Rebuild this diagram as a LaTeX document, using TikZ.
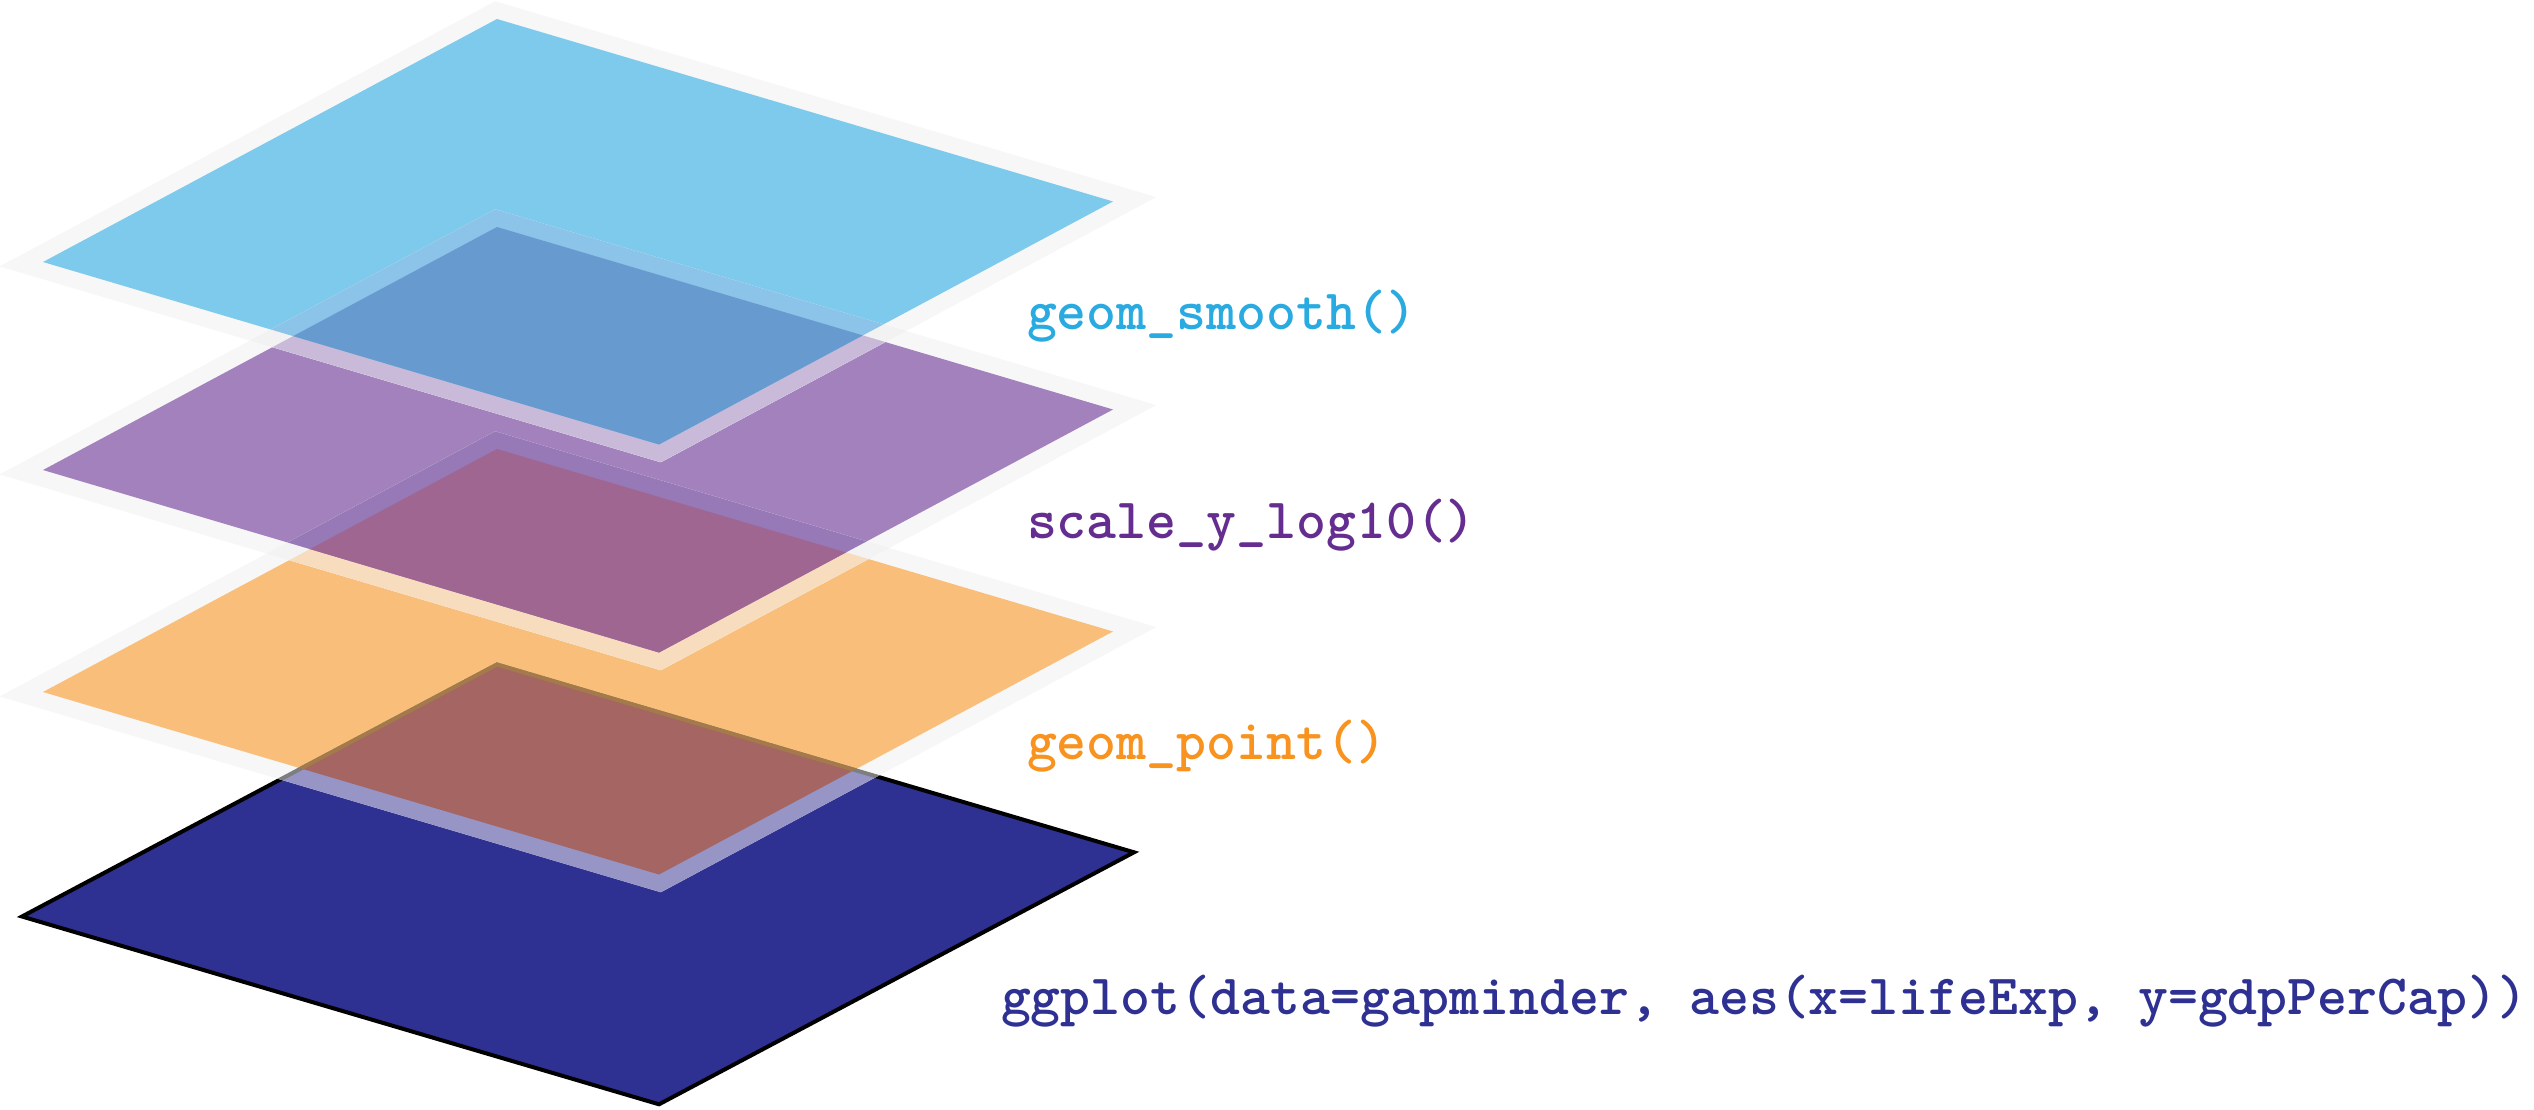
\documentclass[tikz,border=0pt]{standalone}
\definecolor{cBlue}{HTML}{7DCAEC}
\definecolor{cPurple}{HTML}{A381BD}
\definecolor{cOrange}{HTML}{F9BF7A}
\definecolor{cNavy}{HTML}{2E3192}
\definecolor{cGray}{HTML}{F7F7F7}
\definecolor{bpFF}{HTML}{679BD0}
\definecolor{bpFB}{HTML}{8CC3E9}
\definecolor{bpBF}{HTML}{C9BAD9}
\definecolor{bpBB}{HTML}{F2F2F2}
\definecolor{poFF}{HTML}{9F6692}
\definecolor{poFB}{HTML}{9679B6}
\definecolor{poBF}{HTML}{F7DCBD}
\definecolor{poBB}{HTML}{F3F3F3}
\definecolor{onFF}{HTML}{A46563}
\definecolor{onFS}{HTML}{A47A4B}
\definecolor{onBF}{HTML}{9795C6}
\definecolor{onBS}{HTML}{7E7E7E}
\definecolor{tSmooth}{HTML}{29ABE2}
\definecolor{tScale}{HTML}{662D91}
\definecolor{tPoint}{HTML}{F7931E}
\definecolor{tPlot}{HTML}{2E3192}
\tikzset{
  blueIn/.style={insert path={(497,19) -- (1113,201.5) -- (659,444.5) -- (43,262) -- cycle}},
  blueOut/.style={insert path={(495.2,1.3) -- (1156.2,197.1) -- (660.8,462.2) -- (-0.2,266.4) -- cycle}},
  purpIn/.style={insert path={(497,227) -- (1113,409.5) -- (659,652.5) -- (43,470) -- cycle}},
  purpOut/.style={insert path={(495.2,209.3) -- (1156.2,405.1) -- (660.8,670.2) -- (-0.2,474.4) -- cycle}},
  oranIn/.style={insert path={(497,449) -- (1113,631.5) -- (659,874.5) -- (43,692) -- cycle}},
  oranOut/.style={insert path={(495.2,431.3) -- (1156.2,627.1) -- (660.8,892.2) -- (-0.2,696.4) -- cycle}},
  navyP/.style={insert path={(497,664.5) -- (1134,852.3) -- (659,1104.3) -- (22,916.5) -- cycle}},
  codelabel/.style={anchor=base west, inner sep=0pt, outer sep=0pt,
    font=\ttfamily\bfseries\fontsize{57}{60}\selectfont},
}
\begin{document}
\begin{tikzpicture}[x=1pt,y=-1pt]
\useasboundingbox (0,0) rectangle (2534,1110);
\fill[white] (0,0) rectangle (2534,1110);
% navy base layer
\fill[cNavy, navyP];
\draw[black, line width=4pt, line join=miter, navyP];
% orange layer
\fill[cGray, oranOut];
\fill[cOrange, oranIn];
\begin{scope}
  \clip[oranOut];
  \fill[onBF, navyP];
  \draw[onBS, line width=4pt, line join=miter, navyP];
  \begin{scope}
    \clip[oranIn];
    \fill[onFF, navyP];
    \draw[onFS, line width=4pt, line join=miter, navyP];
  \end{scope}
\end{scope}
% purple layer
\fill[cGray, purpOut];
\fill[cPurple, purpIn];
\begin{scope}
  \clip[purpOut];
  \fill[poBB, oranOut];
  \fill[poBF, oranIn];
  \begin{scope}
    \clip[purpIn];
    \fill[poFB, oranOut];
    \fill[poFF, oranIn];
  \end{scope}
\end{scope}
% blue layer
\fill[cGray, blueOut];
\fill[cBlue, blueIn];
\begin{scope}
  \clip[blueOut];
  \fill[bpBB, purpOut];
  \fill[bpBF, purpIn];
  \begin{scope}
    \clip[blueIn];
    \fill[bpFB, purpOut];
    \fill[bpFF, purpIn];
  \end{scope}
\end{scope}
% labels
\node[codelabel, text=tSmooth] (smooth) at (1027,329) {geom\_smooth()};
\node[codelabel, text=tScale] (scale) at (1027,538) {scale\_y\_log10()};
\node[codelabel, text=tPoint] (point) at (1027,759) {geom\_point()};
\node[codelabel, text=tPlot] (plot) at (1001,1014) {ggplot(data=gapminder, aes(x=lifeExp, y=gdpPerCap))};
\end{tikzpicture}
\end{document}
